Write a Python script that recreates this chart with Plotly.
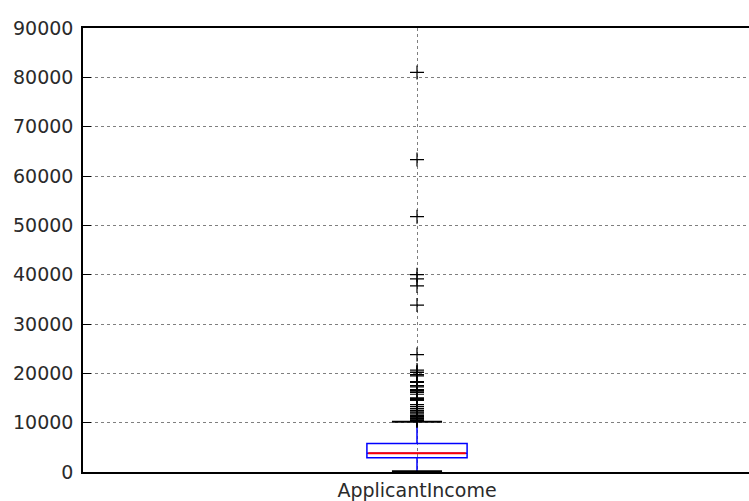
import plotly.graph_objects as go

category = ["ApplicantIncome"]
q1 = [2877.5]
median = [3812.5]
q3 = [5795]
lower_whisker = [150]
upper_whisker = [10171]
outliers = [12841, 12500, 11500, 10750, 13650, 11417, 14583, 10408, 23803, 10513,
            20166, 14999, 11757, 14866, 39999, 51763, 33846, 39147, 12000, 11000,
            16250, 14683, 11146, 14583, 20667, 20233, 15000, 63337, 19730, 15759,
            81000, 14880, 12876, 10416, 37719, 16692, 16525, 16120, 12173, 10750,
            19484, 16667, 10833, 18333, 17263, 18165, 17500, 11250, 13262, 10890]
y_ticks = list(range(0, 90001, 10000))

pos = 1
box_w = 0.15
cap_w = box_w / 2

fig = go.Figure()
fig.add_trace(go.Box(
    x=[pos], q1=q1, median=median, q3=q3,
    lowerfence=lower_whisker, upperfence=upper_whisker,
    width=box_w, whiskerwidth=0,
    line=dict(color="#0000ff", width=1.5),
    fillcolor="rgba(0,0,0,0)", boxpoints=False, hoverinfo="skip",
))
fig.add_trace(go.Scatter(
    x=[pos - box_w / 2 + 0.002, pos + box_w / 2 - 0.002], y=[median[0], median[0]],
    mode="lines", line=dict(color="#ff0000", width=2), hoverinfo="skip"))
for v in (lower_whisker[0], upper_whisker[0]):
    fig.add_trace(go.Scatter(
        x=[pos - cap_w / 2, pos + cap_w / 2], y=[v, v],
        mode="lines", line=dict(color="black", width=2), hoverinfo="skip"))
fig.add_trace(go.Scatter(
    x=[pos] * len(outliers), y=outliers, mode="markers",
    marker=dict(symbol="cross-thin", size=10, line=dict(color="black", width=1.2)),
    hoverinfo="skip"))

font = dict(family="DejaVu Sans", size=19, color="#2a2a2a")
fig.update_layout(
    width=749, height=501,
    margin=dict(l=83, r=0, t=28, b=27),
    paper_bgcolor="white", plot_bgcolor="white",
    showlegend=False, font=font,
    xaxis=dict(range=[0.5, 1.497], tickvals=[pos], ticktext=category,
               showgrid=True, gridcolor="rgba(0,0,0,0.5)", griddash="3px,3px", gridwidth=1,
               showline=True, linecolor="black", linewidth=1.5, mirror=True,
               ticks="", zeroline=False, tickfont=font),
    yaxis=dict(range=[0, 90000], tickvals=y_ticks, ticktext=[str(t) for t in y_ticks],
               showgrid=True, gridcolor="rgba(0,0,0,0.5)", griddash="3px,3px", gridwidth=1,
               showline=True, linecolor="black", linewidth=1.5,
               ticks="inside", ticklen=8, tickcolor="black", tickwidth=1,
               ticklabelstandoff=4, zeroline=False, tickfont=font),
)
fig.write_html("out.html")
